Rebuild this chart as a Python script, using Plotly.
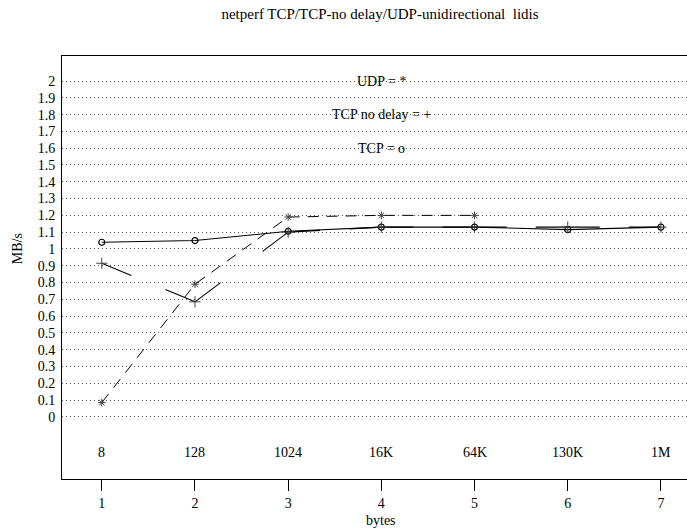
import plotly.graph_objects as go

# message sizes (category labels) and their plotting positions
sizes = ["8", "128", "1024", "16K", "64K", "130K", "1M"]
positions = [1, 2, 3, 4, 5, 6, 7]

# throughput in MB/s
tcp = [1.04, 1.05, 1.105, 1.13, 1.13, 1.115, 1.13]
tcp_nodelay = [0.915, 0.685, 1.10, 1.13, 1.13, 1.13, 1.13]
udp_positions = [1, 2, 3, 4, 5]
udp = [0.085, 0.79, 1.19, 1.20, 1.20]

legend_lines = [("UDP = *", 2.0), ("TCP no delay = +", 1.8), ("TCP = o", 1.6)]
ytick_vals = [round(i * 0.1, 1) for i in range(21)]
ytick_text = ["0"] + [f"{v:g}" for v in ytick_vals[1:]]

FONT = "Liberation Serif"
FS = 14
INK = "black"
MARK = "#444"

fig = go.Figure()

# TCP: solid line
fig.add_trace(go.Scatter(x=positions, y=tcp, mode="lines",
                         line=dict(color=INK, width=1.1), hoverinfo="skip"))

# TCP no delay: each segment drawn as a short dash leaving each end point
for i in range(len(positions) - 1):
    xs = [positions[i], positions[i + 1]]
    ys = [tcp_nodelay[i], tcp_nodelay[i + 1]]
    for sx, sy in ((xs, ys), (xs[::-1], ys[::-1])):
        fig.add_trace(go.Scatter(x=sx, y=sy, mode="lines",
                                 line=dict(color=INK, width=1.1, dash="32px,2000px"),
                                 hoverinfo="skip"))

# UDP: dashed line
fig.add_trace(go.Scatter(x=udp_positions, y=udp, mode="lines",
                         line=dict(color=INK, width=1.0, dash="11px,8px"),
                         hoverinfo="skip"))

# point markers
fig.add_trace(go.Scatter(x=positions, y=tcp, mode="markers",
                         marker=dict(symbol="circle-open", size=6, color=INK,
                                     line=dict(color=INK, width=1.2))))
fig.add_trace(go.Scatter(x=positions, y=tcp_nodelay, mode="markers",
                         marker=dict(symbol="cross-thin-open", size=8, color=MARK,
                                     line=dict(color=MARK, width=1.0))))
fig.add_trace(go.Scatter(x=udp_positions, y=udp, mode="markers",
                         marker=dict(symbol="asterisk-open", size=6.5, color=MARK,
                                     line=dict(color=MARK, width=1.0))))

annotations = []
# category labels inside the frame
for p, s in zip(positions, sizes):
    annotations.append(dict(x=p, y=-0.21, xref="x", yref="y", text=s,
                            showarrow=False, font=dict(family=FONT, size=FS, color=INK)))
# key text on the grid
for label, yv in legend_lines:
    annotations.append(dict(x=4, y=yv, xref="x", yref="y", text=label,
                            showarrow=False, font=dict(family=FONT, size=FS, color=INK)))
# axis titles
annotations.append(dict(x=4, y=-0.097, xref="x", yref="paper", yanchor="middle",
                        text="bytes", showarrow=False,
                        font=dict(family=FONT, size=FS, color=INK)))
annotations.append(dict(x=-0.07, y=1, xref="paper", yref="y", xanchor="center",
                        text="MB/s", textangle=-90, showarrow=False,
                        font=dict(family=FONT, size=FS, color=INK)))

fig.update_layout(
    width=687, height=531,
    margin=dict(l=62, r=0, t=56, b=52),
    paper_bgcolor="white", plot_bgcolor="white",
    showlegend=False,
    title=dict(text="netperf TCP/TCP-no delay/UDP-unidirectional  lidis",
               x=380 / 687, xanchor="center", y=1 - 14 / 531, yanchor="middle",
               font=dict(family=FONT, size=15, color=INK)),
    font=dict(family=FONT, size=FS, color=INK),
    annotations=annotations,
)

fig.update_xaxes(range=[0.573, 7.28], tickvals=positions,
                 ticktext=[str(p) for p in positions],
                 ticks="outside", ticklen=11, tickwidth=1, tickcolor=INK,
                 showline=True, linecolor=INK, linewidth=1, mirror=True,
                 showgrid=False, zeroline=False,
                 tickfont=dict(family=FONT, size=FS, color=INK))
fig.update_yaxes(range=[-0.37, 2.149], tickvals=ytick_vals, ticktext=ytick_text,
                 ticks="", showline=True, linecolor=INK, linewidth=1,
                 showgrid=True, gridcolor="#555", gridwidth=1, griddash="1px,3px",
                 zeroline=False, ticklabelstandoff=3,
                 tickfont=dict(family=FONT, size=FS, color=INK))

fig.write_html("out.html")
